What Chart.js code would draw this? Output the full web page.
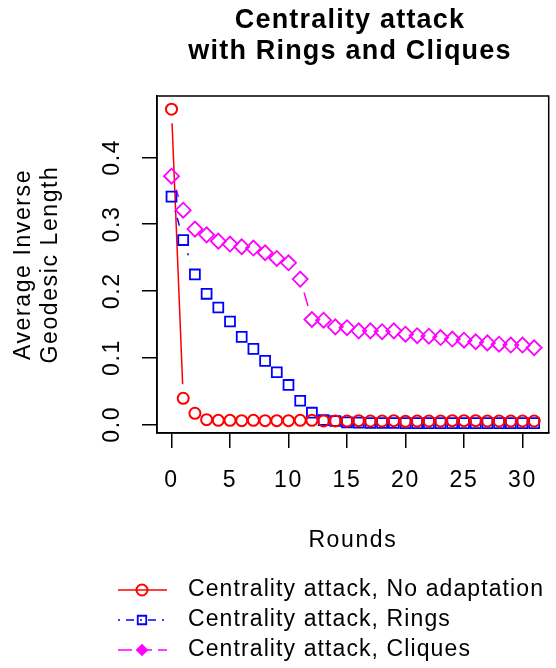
<!DOCTYPE html>
<html><head><meta charset="utf-8">
<script src="https://cdn.jsdelivr.net/npm/chart.js@4.4.1/dist/chart.umd.min.js"></script>
<style>html,body{margin:0;padding:0;overflow:hidden;background:#fff;}#wrap{width:558px;height:668px;}</style>
</head><body><div id="wrap"><canvas id="c" width="558" height="668"></canvas></div>
<script>
const rounds = [0,1,2,3,4,5,6,7,8,9,10,11,12,13,14,15,16,17,18,19,20,21,22,23,24,25,26,27,28,29,30,31];
const noAdaptation = [0.472,0.039,0.0165,0.007,0.006,0.006,0.0055,0.006,0.0055,0.0055,0.0055,0.006,0.006,0.005,0.005,0.005,0.0055,0.005,0.005,0.0055,0.0045,0.005,0.005,0.005,0.0055,0.0055,0.0055,0.005,0.005,0.005,0.005,0.005];
const rings = [0.341,0.276,0.2245,0.1955,0.175,0.154,0.131,0.113,0.095,0.078,0.059,0.0353,0.0174,0.0064,0.005,0.003,0.0025,0.002,0.002,0.002,0.0018,0.0018,0.0018,0.0018,0.0018,0.0018,0.0018,0.0018,0.0018,0.0018,0.0018,0.0018];
const cliques = [0.3717,0.3208,0.2924,0.2838,0.2744,0.270,0.266,0.264,0.257,0.2485,0.242,0.2175,0.157,0.156,0.146,0.1447,0.140,0.140,0.1387,0.140,0.135,0.1327,0.132,0.130,0.1277,0.126,0.1237,0.122,0.120,0.1187,0.1187,0.1147];
const xTicks = [0,5,10,15,20,25,30];
const yTicks = [0,0.1,0.2,0.3,0.4];
const seriesNames = ['Centrality attack, No adaptation','Centrality attack, Rings','Centrality attack, Cliques'];
const titleLines = ['Centrality attack','with Rings and Cliques'];
const xTitle = 'Rounds';
const yTitle = ['Average Inverse','Geodesic Length'];

const FONT = "'Liberation Sans', Arial, sans-serif";
const toXY = arr => rounds.map((r, i) => ({x: r, y: arr[i]}));

const spacing = {
  id: 'spacing',
  beforeDraw(chart) { chart.ctx.letterSpacing = '1.6px'; }
};

const gapLines = {
  id: 'gapLines',
  beforeDatasetsDraw(chart) {
    const ctx = chart.ctx, GAP = 14;
    ctx.save();
    chart.data.datasets.forEach((ds, i) => {
      const pts = chart.getDatasetMeta(i).data;
      ctx.strokeStyle = ds.borderColor; ctx.lineWidth = ds.lineW; ctx.setLineDash(ds.dash);
      for (let k = 0; k < pts.length - 1; k++) {
        const a = pts[k], b = pts[k+1];
        const dx = b.x - a.x, dy = b.y - a.y, d = Math.hypot(dx, dy);
        if (d <= 2 * GAP) continue;
        const ux = dx / d, uy = dy / d;
        ctx.lineDashOffset = 0;
        ctx.beginPath();
        ctx.moveTo(a.x + ux * GAP, a.y + uy * GAP);
        ctx.lineTo(b.x - ux * GAP, b.y - uy * GAP);
        ctx.stroke();
      }
    });
    ctx.restore();
  }
};

const frame = {
  id: 'frame',
  afterDraw(chart) {
    const {ctx, chartArea: a} = chart;
    ctx.save();
    ctx.strokeStyle = '#000'; ctx.lineWidth = 1.5;
    ctx.strokeRect(a.left, a.top, a.right - a.left, a.bottom - a.top);
    // title
    ctx.fillStyle = '#000'; ctx.textAlign = 'center'; ctx.textBaseline = 'middle';
    ctx.font = "bold 27px " + FONT;
    ctx.letterSpacing = '1.2px';
    ctx.fillText(titleLines[0], 350, 21);
    ctx.fillText(titleLines[1], 350, 52);
    // legend
    const rows = [590, 620, 650];
    ctx.font = "23px " + FONT;
    ctx.letterSpacing = '1.1px';
    ctx.textAlign = 'left';
    chart.data.datasets.forEach((ds, i) => {
      const y = rows[i];
      ctx.save();
      ctx.strokeStyle = ds.borderColor; ctx.lineWidth = ds.lineW; ctx.setLineDash(ds.dash);
      ctx.beginPath(); ctx.moveTo(118, y); ctx.lineTo(167, y); ctx.stroke();
      ctx.restore();
      ctx.save();
      ctx.fillStyle = ds.legendFill; ctx.strokeStyle = ds.borderColor; ctx.lineWidth = ds.pointBorderWidth; ctx.setLineDash([]);
      Chart.helpers.drawPoint(ctx, {pointStyle: ds.pointStyle, radius: ds.legendRadius, borderWidth: ds.pointBorderWidth, rotation: 0}, 142, y);
      ctx.restore();
      ctx.fillStyle = '#000';
      ctx.fillText(seriesNames[i], 188, y);
    });
    ctx.restore();
  }
};

const axisFont = {family: FONT, size: 23};
const common = {
  grid: {drawOnChartArea: false, drawTicks: true, tickLength: 15, color: '#000', lineWidth: 1.5},
  border: {display: true, color: '#000', width: 1.5}
};

new Chart(document.getElementById('c'), {
  type: 'line',
  data: {
    datasets: [
      {label: seriesNames[0], data: toXY(noAdaptation), showLine: false, borderColor: '#ff0000', backgroundColor: 'rgba(0,0,0,0)',
       pointStyle: 'circle', pointRadius: 5.5, pointBorderWidth: 2, pointBorderColor: '#ff0000', pointBackgroundColor: 'rgba(0,0,0,0)',
       lineW: 1.5, dash: [], legendRadius: 5.5, legendFill: 'rgba(0,0,0,0)'},
      {label: seriesNames[1], data: toXY(rings), showLine: false, borderColor: '#0000ff', backgroundColor: 'rgba(0,0,0,0)',
       pointStyle: 'rect', pointRadius: 7, pointBorderWidth: 1.8, pointBorderColor: '#0000ff', pointBackgroundColor: 'rgba(0,0,0,0)',
       lineW: 1.5, dash: [2, 6, 8, 6], legendRadius: 6, legendFill: 'rgba(0,0,0,0)'},
      {label: seriesNames[2], data: toXY(cliques), showLine: false, borderColor: '#ff00ff', backgroundColor: 'rgba(0,0,0,0)',
       pointStyle: 'rectRot', pointRadius: 7.5, pointBorderWidth: 1.8, pointBorderColor: '#ff00ff', pointBackgroundColor: 'rgba(0,0,0,0)',
       lineW: 1.5, dash: [14, 6], legendRadius: 5, legendFill: '#ff00ff'}
    ]
  },
  options: {
    responsive: false, animation: false, devicePixelRatio: 1,
    layout: {padding: {top: 96, left: 0, right: 1, bottom: 0}},
    plugins: {legend: {display: false}, title: {display: false}, tooltip: {enabled: false}},
    scales: {
      x: {
        type: 'linear', position: 'bottom', min: -1.24, max: 32.24,
        afterFit: s => { s.height = 235; },
        afterBuildTicks: s => { s.ticks = xTicks.map(v => ({value: v})); },
        ticks: {minRotation: 0, maxRotation: 0, padding: 19, color: '#000', font: axisFont, callback: v => String(v)},
        title: {display: true, text: xTitle, color: '#000', font: {family: FONT, size: 23}, padding: {top: 0, bottom: 114}},
        ...common
      },
      y: {
        type: 'linear', position: 'left', min: -0.013, max: 0.4918,
        afterFit: s => { s.width = 157; },
        afterBuildTicks: s => { s.ticks = yTicks.map(v => ({value: v})); },
        ticks: {minRotation: 90, maxRotation: 90, crossAlign: 'center', padding: 13, color: '#000', font: axisFont, callback: v => v.toFixed(1)},
        title: {display: true, text: yTitle, color: '#000', font: {family: FONT, size: 23, lineHeight: 1.17}, padding: {top: 10, bottom: 0}},
        ...common
      }
    }
  },
  plugins: [spacing, gapLines, frame]
});
</script>
</body></html>
